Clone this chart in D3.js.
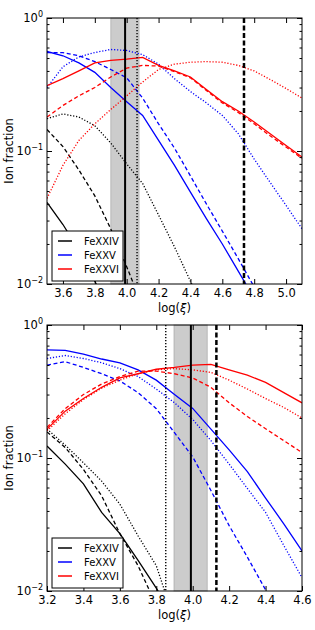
<!DOCTYPE html>
<html>
<head>
<meta charset="utf-8">
<script src="https://cdnjs.cloudflare.com/ajax/libs/d3/7.8.5/d3.min.js"></script>
<style>
  body { margin: 0; background: #fff; }
  svg { display: block; font-family: "DejaVu Sans", sans-serif; }
</style>
</head>
<body>
<svg width="315" height="630"></svg>
<script>
// legend names, one per ion (black / blue / red)
const ions = ['FeXXIV', 'FeXXV', 'FeXXVI'];

// ---- top panel, log(xi) grid 3.5 .. 5.1
const topLogXi = [3.5, 3.6, 3.7, 3.8, 3.9, 4.0, 4.1, 4.2, 4.3, 4.4, 4.5, 4.6, 4.7, 4.8, 4.9, 5.0, 5.1];
const topXTicks = [3.6, 3.8, 4.0, 4.2, 4.4, 4.6, 4.8, 5.0];
const topBlackSolid = [0.041, 0.028, 0.018, 0.0105, 0.006];
const topBlackDashed = [0.145, 0.108, 0.072, 0.046, 0.026, 0.0135, 0.0068];
const topBlackDotted = [0.175, 0.19, 0.18, 0.155, 0.115, 0.08, 0.057, 0.033, 0.019, 0.0105, 0.0058];
const topBlueSolid = [0.56, 0.52, 0.46, 0.39, 0.30, 0.235, 0.185, 0.12, 0.078, 0.049, 0.031, 0.020, 0.0125, 0.0078];
const topBlueDashed = [0.55, 0.55, 0.52, 0.47, 0.41, 0.355, 0.25, 0.16, 0.105, 0.065, 0.040, 0.025, 0.0155, 0.0095];
const topBlueDotted = [0.30, 0.43, 0.51, 0.55, 0.58, 0.57, 0.53, 0.45, 0.35, 0.28, 0.23, 0.185, 0.135, 0.087, 0.058, 0.039, 0.026];
const topRedSolid = [0.31, 0.35, 0.40, 0.46, 0.48, 0.49, 0.505, 0.44, 0.40, 0.36, 0.29, 0.235, 0.20, 0.165, 0.135, 0.11, 0.09];
const topRedDashed = [0.18, 0.22, 0.26, 0.30, 0.36, 0.42, 0.44, 0.435, 0.395, 0.355, 0.285, 0.23, 0.195, 0.16, 0.13, 0.107, 0.088];
const topRedDotted = [0.044, 0.078, 0.12, 0.16, 0.205, 0.26, 0.33, 0.41, 0.45, 0.465, 0.47, 0.465, 0.44, 0.40, 0.345, 0.295, 0.25];
const topBand = [3.90, 4.078];
const topMarkers = [3.99, 4.065, 4.736]; // solid, dotted, dashed

// ---- bottom panel, log(xi) grid 3.2 .. 4.6
const botLogXi = [3.2, 3.3, 3.4, 3.5, 3.6, 3.7, 3.8, 3.9, 4.0, 4.1, 4.2, 4.3, 4.4, 4.5, 4.6];
const botXTicks = [3.2, 3.4, 3.6, 3.8, 4.0, 4.2, 4.4, 4.6];
const botBlackSolid = [0.123, 0.09, 0.064, 0.039, 0.027, 0.017, 0.0105, 0.0062];
const botBlackDashed = [0.157, 0.12, 0.082, 0.052, 0.027, 0.0155, 0.0078];
const botBlackDotted = [0.165, 0.125, 0.092, 0.067, 0.045, 0.026, 0.0155, 0.006];
const botBlueSolid = [0.65, 0.645, 0.605, 0.555, 0.52, 0.46, 0.385, 0.30, 0.236, 0.165, 0.115, 0.079, 0.05, 0.032, 0.020];
const botBlueDashed = [0.50, 0.53, 0.48, 0.43, 0.38, 0.31, 0.235, 0.155, 0.102, 0.057, 0.031, 0.018, 0.0102, 0.0058];
const botBlueDotted = [0.56, 0.59, 0.56, 0.52, 0.47, 0.41, 0.33, 0.26, 0.195, 0.135, 0.09, 0.059, 0.039, 0.022, 0.0126];
const botRedSolid = [0.165, 0.225, 0.28, 0.34, 0.40, 0.43, 0.465, 0.48, 0.50, 0.505, 0.46, 0.42, 0.37, 0.31, 0.26];
const botRedDashed = [0.17, 0.235, 0.30, 0.36, 0.41, 0.45, 0.45, 0.43, 0.40, 0.34, 0.26, 0.205, 0.166, 0.135, 0.11];
const botRedDotted = [0.16, 0.215, 0.275, 0.335, 0.385, 0.43, 0.46, 0.47, 0.46, 0.44, 0.385, 0.33, 0.28, 0.24, 0.20];
const botBand = [3.897, 4.08];
const botMarkers = [3.99, 3.852, 4.13];

const yMajor = [0.01, 0.1, 1];
const yExp = ['\u22122', '\u22121', '0'];

const colors = ['black', 'blue', 'red'];
const dashes = { solid: null, dashed: '4,2.6', dotted: '1.2,1.8' };

class Panel {
    constructor(top, logXi, xTicks, series, band, markers, id) {
        this.svg = d3.select('svg');
        this.margin = { left: 47, top: top };
        this.width = 255;
        this.height = 266;
        this.logXi = logXi;
        this.xTicks = xTicks;
        this.series = series; // [{values, ion, style}]
        this.band = band;
        this.markers = markers;
        this.id = id;
    }

    draw = () => {
        this.g = this.svg.append('g')
            .attr('transform', `translate(${this.margin.left},${this.margin.top})`);
        this.x = d3.scaleLinear().domain(d3.extent(this.logXi)).range([0, this.width]);
        this.y = d3.scaleLog().domain([0.01, 1]).range([this.height, 0]);

        this.g.append('clipPath').attr('id', this.id)
            .append('rect').attr('width', this.width).attr('height', this.height);

        this.drawBand();
        this.drawCurves();
        this.drawMarkers();
        this.drawAxes();
        this.drawLegend();
    }

    drawBand = () => {
        this.g.append('rect')
            .attr('x', this.x(this.band[0]))
            .attr('width', this.x(this.band[1]) - this.x(this.band[0]))
            .attr('y', 0).attr('height', this.height)
            .attr('fill', '#808080').attr('fill-opacity', 0.4)
            .attr('stroke', '#808080').attr('stroke-opacity', 0.4);
    }

    drawCurves = () => {
        const line = d3.line()
            .x(d => this.x(d[0]))
            .y(d => this.y(d[1]));
        const layer = this.g.append('g').attr('clip-path', `url(#${this.id})`);
        this.series.forEach(s => {
            const pts = s.values.map((v, i) => [this.logXi[i], v]);
            layer.append('path')
                .attr('d', line(pts))
                .attr('fill', 'none')
                .attr('stroke', colors[s.ion])
                .attr('stroke-width', 1.3)
                .attr('stroke-dasharray', dashes[s.style]);
        });
    }

    drawMarkers = () => {
        // solid, dotted, dashed verticals
        const styles = [
            { w: 2, dash: null },
            { w: 1.4, dash: '1.3,1.7' },
            { w: 2.5, dash: '5,2.5' }
        ];
        this.markers.forEach((m, i) => {
            this.g.append('line')
                .attr('x1', this.x(m)).attr('x2', this.x(m))
                .attr('y1', 0).attr('y2', this.height)
                .attr('stroke', 'black')
                .attr('stroke-width', styles[i].w)
                .attr('stroke-dasharray', styles[i].dash);
        });
    }

    drawAxes = () => {
        const bottom = this.g.append('g')
            .attr('transform', `translate(0,${this.height})`)
            .call(d3.axisBottom(this.x).tickValues(this.xTicks)
                .tickSizeInner(-5).tickSizeOuter(0).tickPadding(5)
                .tickFormat(d3.format('.1f')));
        this.g.append('g')
            .call(d3.axisTop(this.x).tickValues(this.xTicks)
                .tickSizeInner(-5).tickSizeOuter(0).tickFormat(''));

        const minor = [];
        [0.01, 0.1].forEach(b => d3.range(2, 10).forEach(m => minor.push(b * m)));
        this.g.append('g').call(d3.axisLeft(this.y).tickValues(yMajor).tickSizeInner(-5).tickSizeOuter(0).tickFormat(''));
        this.g.append('g').call(d3.axisLeft(this.y).tickValues(minor).tickSizeInner(-2.5).tickSizeOuter(0).tickFormat(''));
        this.g.append('g').attr('transform', `translate(${this.width},0)`)
            .call(d3.axisRight(this.y).tickValues(yMajor).tickSizeInner(-5).tickSizeOuter(0).tickFormat(''));
        this.g.append('g').attr('transform', `translate(${this.width},0)`)
            .call(d3.axisRight(this.y).tickValues(minor).tickSizeInner(-2.5).tickSizeOuter(0).tickFormat(''));

        this.g.selectAll('.domain').remove();
        this.g.selectAll('.tick line').attr('stroke', 'black');
        bottom.selectAll('text')
            .attr('font-size', 11.5).attr('font-family', '"DejaVu Sans", sans-serif').attr('fill', 'black');

        // y labels 10^n
        yMajor.forEach((v, i) => {
            const t = this.g.append('text')
                .attr('x', -4).attr('y', this.y(v) + 4)
                .attr('text-anchor', 'end')
                .attr('font-size', 11.5);
            t.append('tspan').text('10');
            t.append('tspan').attr('dy', -5).attr('font-size', 8).text(yExp[i]);
        });

        this.g.append('rect')
            .attr('width', this.width).attr('height', this.height)
            .attr('fill', 'none').attr('stroke', 'black').attr('stroke-width', 1);

        this.g.append('text')
            .attr('transform', `translate(-34,${this.height / 2}) rotate(-90)`)
            .attr('text-anchor', 'middle')
            .attr('font-size', 11.5)
            .text('Ion fraction');

        const xl = this.g.append('text')
            .attr('x', this.width / 2).attr('y', this.height + 28)
            .attr('text-anchor', 'middle')
            .attr('font-size', 11.5);
        xl.append('tspan').text('log(');
        xl.append('tspan').attr('font-style', 'italic').text('\u03be');
        xl.append('tspan').text(')');
    }

    drawLegend = () => {
        const top = this.height - 53;
        const box = this.g.append('g').attr('transform', `translate(5,${top})`);
        box.append('rect')
            .attr('width', 71).attr('height', 50)
            .attr('fill', 'white').attr('stroke', 'black').attr('stroke-width', 1);
        ions.forEach((name, i) => {
            const yy = 10 + i * 14;
            box.append('line')
                .attr('x1', 6).attr('x2', 20).attr('y1', yy).attr('y2', yy)
                .attr('stroke', colors[i]).attr('stroke-width', 1.5);
            box.append('text')
                .attr('x', 32).attr('y', yy + 3.6)
                .attr('font-size', 10)
                .text(name);
        });
    }
}

const topSeries = [
    { values: topBlackSolid, ion: 0, style: 'solid' },
    { values: topBlackDashed, ion: 0, style: 'dashed' },
    { values: topBlackDotted, ion: 0, style: 'dotted' },
    { values: topBlueSolid, ion: 1, style: 'solid' },
    { values: topBlueDashed, ion: 1, style: 'dashed' },
    { values: topBlueDotted, ion: 1, style: 'dotted' },
    { values: topRedSolid, ion: 2, style: 'solid' },
    { values: topRedDashed, ion: 2, style: 'dashed' },
    { values: topRedDotted, ion: 2, style: 'dotted' }
];
const botSeries = [
    { values: botBlackSolid, ion: 0, style: 'solid' },
    { values: botBlackDashed, ion: 0, style: 'dashed' },
    { values: botBlackDotted, ion: 0, style: 'dotted' },
    { values: botBlueSolid, ion: 1, style: 'solid' },
    { values: botBlueDashed, ion: 1, style: 'dashed' },
    { values: botBlueDotted, ion: 1, style: 'dotted' },
    { values: botRedSolid, ion: 2, style: 'solid' },
    { values: botRedDashed, ion: 2, style: 'dashed' },
    { values: botRedDotted, ion: 2, style: 'dotted' }
];

new Panel(18, topLogXi, topXTicks, topSeries, topBand, topMarkers, 'clipTop').draw();
new Panel(325, botLogXi, botXTicks, botSeries, botBand, botMarkers, 'clipBot').draw();
</script>
</body>
</html>
